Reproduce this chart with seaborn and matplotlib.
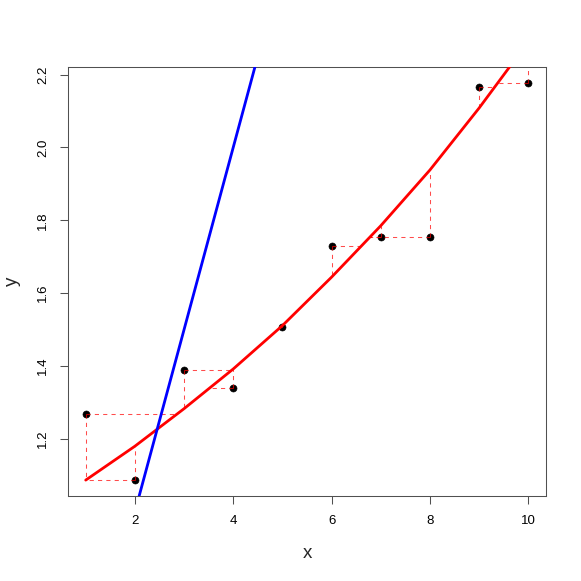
import numpy as np
import pandas as pd
import matplotlib
matplotlib.use("Agg")
import matplotlib.pyplot as plt
import seaborn as sns

# ---- data ----
x_vals = [1, 2, 3, 4, 5, 6, 7, 8, 9, 10]
y_obs = [1.268, 1.087, 1.390, 1.341, 1.507, 1.730, 1.753, 1.753, 2.167, 2.177]
y_fit = [1.087, 1.180, 1.283, 1.392, 1.511, 1.644, 1.785, 1.938, 2.108, 2.290]
blue_intercept = 0.0
blue_slope = 0.5
x_ticks = [2, 4, 6, 8, 10]
y_ticks = [1.2, 1.4, 1.6, 1.8, 2.0, 2.2]

df = pd.DataFrame({"x": x_vals, "y": y_obs, "fit": y_fit})

sns.set_style("white")
plt.rcParams["font.family"] = ["Liberation Sans", "DejaVu Sans"]

W = H = 581
fig = plt.figure(figsize=(W / 100, H / 100), dpi=100)
left, right, top, bottom = 68, 546, 67, 496
ax = fig.add_axes([left / W, (H - bottom) / H, (right - left) / W, (bottom - top) / H])

# R-style 4% padding on the ranges of the points
xr = max(x_vals) - min(x_vals)
yr = max(y_obs) - min(y_obs)
ax.set_xlim(min(x_vals) - 0.04 * xr, max(x_vals) + 0.04 * xr)
ax.set_ylim(min(y_obs) - 0.04 * yr, max(y_obs) + 0.04 * yr)

# points
sns.scatterplot(data=df, x="x", y="y", ax=ax, color="black", s=26,
                edgecolor="black", linewidth=0.4, zorder=3)

# dashed residual segments
xa = np.array(x_vals, float)
ya = np.array(y_obs, float)
fa = np.array(y_fit, float)
x_inv = np.interp(ya, fa, xa)
dash_kw = dict(color="red", alpha=0.7, lw=0.75, linestyle=(0, (4, 4)), zorder=4)
for xi, yi, fi, xv in zip(xa, ya, fa, x_inv):
    ax.plot([xi, xi], [yi, fi], **dash_kw)
    ax.plot([xi, xv], [yi, yi], **dash_kw)

# fitted curve
sns.lineplot(data=df, x="x", y="fit", ax=ax, color="red", lw=2.0, zorder=5)

# blue straight line
ax.axline((0, blue_intercept), slope=blue_slope, color="blue", lw=2.0, zorder=6)

frame_col = "#505050"
ax.set_xticks(x_ticks)
ax.set_yticks(y_ticks)
ax.set_yticklabels([f"{v:.1f}" for v in y_ticks], rotation=90, va="center")
ax.tick_params(axis="both", direction="out", length=5.5, width=0.75,
               labelsize=9.5, color=frame_col, labelcolor="black",
               left=True, bottom=True)
ax.tick_params(axis="x", pad=8)
ax.tick_params(axis="y", pad=8)
for s in ax.spines.values():
    s.set_color(frame_col)
    s.set_linewidth(0.75)
    s.set_visible(True)

ax.set_xlabel("x", fontsize=13.5)
ax.set_ylabel("y", fontsize=13.5)
ax.xaxis.set_label_coords(0.5, (bottom - 553) / (bottom - top))
ax.xaxis.label.set_va("center")
ax.yaxis.set_label_coords((12 - left) / (right - left), 0.5)
ax.yaxis.label.set_va("center")

fig.savefig("out.png", dpi=100, facecolor="white")
